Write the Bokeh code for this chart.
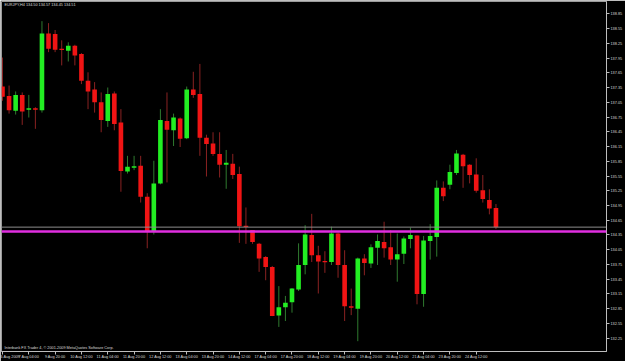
from bokeh.plotting import figure
from bokeh.models import Range1d, FixedTicker, PrintfTickFormatter, Span, Label
from bokeh.embed import file_html
from bokeh.resources import INLINE

# ---- data (EURJPY, H4) ----
tick_labels = ["6 Aug 2009", "7 Aug 04:00", "9 Aug 20:00", "10 Aug 12:00", "11 Aug 04:00",
               "11 Aug 20:00", "12 Aug 12:00", "13 Aug 04:00", "13 Aug 20:00", "14 Aug 12:00",
               "17 Aug 04:00", "17 Aug 20:00", "18 Aug 12:00", "19 Aug 04:00", "19 Aug 20:00",
               "20 Aug 12:00", "21 Aug 04:00", "23 Aug 20:00", "24 Aug 12:00"]
tick_bars = [0, 4, 8, 12, 16, 20, 24, 28, 32, 36, 40, 44, 48, 52, 56, 60, 64, 68, 72]

opens = [137.37, 137.18, 136.88, 137.20, 136.90, 136.93, 136.89, 138.45, 138.44, 138.14,
         138.10, 138.20, 138.03, 137.49, 137.31, 137.05, 136.67, 137.23, 136.64, 135.64,
         135.72, 135.76, 135.13, 134.43, 135.40, 136.67, 136.48, 136.72, 136.32, 137.31,
         137.22, 136.33, 136.21, 136.00, 135.78, 135.80, 135.59, 134.54, 134.45, 134.17,
         133.90, 133.70, 132.71, 132.88, 132.98, 133.24, 133.74, 134.35, 133.94, 133.82,
         133.80, 134.38, 133.74, 132.90, 132.85, 133.87, 133.77, 134.09, 134.21, 134.10,
         133.85, 133.97, 134.27, 134.34, 133.15, 134.23, 134.31, 135.31, 135.37, 135.61,
         135.98, 135.78, 135.58, 135.26, 135.06, 134.90]
highs = [137.96, 137.39, 137.27, 137.25, 137.20, 136.95, 138.70, 138.66, 138.52, 138.31,
         138.27, 138.22, 138.05, 137.66, 137.46, 137.25, 137.35, 137.27, 136.91, 135.96,
         135.96, 135.96, 135.20, 135.86, 136.91, 137.25, 136.82, 136.74, 137.37, 137.67,
         137.83, 136.39, 136.44, 136.44, 136.08, 136.00, 135.74, 134.91, 134.45, 134.19,
         133.92, 133.72, 133.31, 133.11, 133.27, 134.18, 134.55, 134.78, 134.13, 134.02,
         134.52, 134.40, 134.04, 133.26, 133.89, 133.96, 134.16, 134.36, 134.62, 134.45,
         134.38, 134.32, 134.50, 134.34, 134.33, 134.57, 135.46, 135.44, 135.78, 136.08,
         136.00, 135.79, 135.91, 135.57, 135.28, 134.98]
lows = [137.08, 136.82, 136.80, 136.59, 136.74, 136.51, 136.84, 138.07, 138.07, 137.80,
        137.88, 137.80, 137.42, 136.91, 136.84, 136.44, 136.55, 136.48, 135.23, 135.60,
        135.67, 135.01, 134.08, 134.36, 135.38, 135.42, 136.16, 136.14, 136.30, 137.14,
        135.96, 135.54, 135.96, 135.52, 135.29, 135.49, 134.19, 134.17, 134.17, 133.60,
        133.43, 132.70, 132.48, 132.60, 132.77, 133.21, 133.55, 133.80, 133.16, 133.58,
        133.74, 133.48, 132.60, 132.72, 132.19, 133.53, 133.68, 133.74, 133.89, 133.74,
        133.40, 133.76, 134.08, 132.94, 132.89, 133.85, 133.91, 135.04, 135.28, 135.57,
        135.31, 135.40, 135.21, 135.01, 134.77, 134.47]
closes = [137.16, 136.89, 137.20, 136.86, 136.93, 136.90, 138.45, 138.14, 138.12, 138.12,
          138.20, 138.00, 137.49, 137.27, 137.05, 136.69, 137.22, 136.61, 135.65, 135.74,
          135.75, 135.13, 134.42, 135.40, 136.69, 136.49, 136.74, 136.31, 137.31, 137.20,
          136.33, 136.20, 136.00, 135.78, 135.82, 135.57, 134.53, 134.52, 134.21, 133.87,
          133.70, 132.70, 132.88, 132.97, 133.26, 133.74, 134.36, 133.94, 133.81, 133.80,
          134.38, 133.74, 132.90, 132.87, 133.87, 133.78, 134.10, 134.23, 134.08, 133.85,
          133.96, 134.28, 134.35, 133.15, 134.24, 134.33, 135.31, 135.14, 135.63, 136.01,
          135.75, 135.57, 135.25, 135.08, 134.89, 134.51]

price_ticks = [131.95, 132.25, 132.55, 132.85, 133.15, 133.45, 133.75, 134.05, 134.35,
               134.65, 134.95, 135.25, 135.55, 135.85, 136.15, 136.45, 136.75, 137.05,
               137.35, 137.65, 137.95, 138.25, 138.55, 138.85]
bid_price = 134.51
level_price = 134.42
header_text = "EURJPY,H4  134.50 134.57 134.45 134.51"
footer_text = "Interbank FX Trader 4, \u00a9 2001-2009 MetaQuotes Software Corp."

# ---- figure ----
FS = "3.8px"
FONT = "Liberation Sans"
p = figure(width=625, height=361, output_backend="svg", toolbar_location=None,
           x_range=Range1d(-0.15, 91.8), y_range=Range1d(131.98, 139.10),
           y_axis_location="right",
           min_border_left=1, min_border_top=1, min_border_right=2, min_border_bottom=1)
p.background_fill_color = "black"
p.border_fill_color = "black"
p.outline_line_color = "#9a9a9a"
p.grid.visible = False

xs = list(range(len(opens)))
up = [c >= o for o, c in zip(opens, closes)]
ux = [x for x, u in zip(xs, up) if u]
dx = [x for x, u in zip(xs, up) if not u]

def pick(arr, idx):
    return [arr[i] for i in idx]

# wicks
p.segment(ux, pick(highs, ux), ux, pick(lows, ux), line_color="#2f7a2f", line_width=1)
p.segment(dx, pick(highs, dx), dx, pick(lows, dx), line_color="#8a2222", line_width=1)
# bodies
def body(idx, color):
    top = [max(opens[i], closes[i]) for i in idx]
    bot = [min(opens[i], closes[i]) for i in idx]
    bot = [b if t - b >= 0.025 else t - 0.025 for t, b in zip(top, bot)]
    p.vbar(x=idx, width=0.7, top=top, bottom=bot, fill_color=color, line_color=None)
body(ux, "#22ee22")
body(dx, "#f01414")

# horizontal lines
p.add_layout(Span(location=bid_price, dimension="width", line_color="#8c8c8c", line_width=1))
p.add_layout(Span(location=level_price, dimension="width", line_color="#e02ee0", line_width=2.6))

# axes
ax = p.yaxis[0]
ax.ticker = FixedTicker(ticks=price_ticks)
ax.formatter = PrintfTickFormatter(format="%.2f")
ax.axis_line_color = "#bdbdbd"
ax.major_tick_line_color = "#bdbdbd"
ax.major_tick_out = 3
ax.major_tick_in = 0
ax.minor_tick_line_color = None
ax.major_label_standoff = 1
ax.major_label_text_font_size = FS
ax.major_label_text_font = FONT
ax.major_label_text_color = "#d8d8d8"

bx = p.xaxis[0]
bx.ticker = FixedTicker(ticks=tick_bars)
bx.major_label_overrides = {t: s for t, s in zip(tick_bars, tick_labels)}
bx.axis_line_color = "#bdbdbd"
bx.major_tick_line_color = "#bdbdbd"
bx.major_tick_out = 3
bx.major_tick_in = 0
bx.minor_tick_line_color = None
bx.major_label_standoff = 0
bx.major_label_text_align = "left"
bx.major_label_text_font_size = FS
bx.major_label_text_font = FONT
bx.major_label_text_color = "#d8d8d8"

# texts
p.add_layout(Label(x=0.3, y=139.07, text=header_text, text_font_size=FS, text_font=FONT,
                   text_color="#dcdcdc", text_baseline="top"))
p.add_layout(Label(x=0.3, y=132.01, text=footer_text, text_font_size=FS, text_font=FONT,
                   text_color="#dcdcdc", text_baseline="bottom"))
p.add_layout(Label(x=91.85, y=bid_price, text="134.51", text_font_size=FS, text_font=FONT,
                   text_color="black", text_baseline="middle", background_fill_color="white"))
p.add_layout(Label(x=91.85, y=level_price, text="134.42", text_font_size=FS, text_font=FONT,
                   text_color="#f0f0f0", text_baseline="middle", background_fill_color="#e02ee0"))

open("out.html", "w").write(file_html(p, INLINE))
